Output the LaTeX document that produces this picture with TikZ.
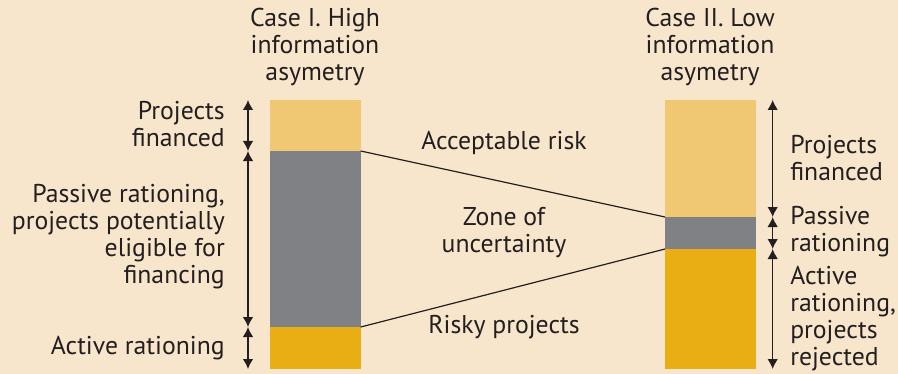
\documentclass[tikz,border=0pt]{standalone}
\usepackage{fontspec}
\setmainfont{PT Sans}
\usetikzlibrary{arrows.meta,positioning}
\definecolor{bgcream}{RGB}{248,230,204}
\definecolor{finlight}{RGB}{240,200,116}
\definecolor{zonegray}{RGB}{128,129,132}
\definecolor{riskgold}{RGB}{232,174,20}
\definecolor{inkdark}{RGB}{35,31,32}
\tikzset{
  block/.style     = {inner sep=0pt, outer sep=0pt, minimum width=68pt, anchor=north west},
  span/.style      = {{Latex[length=7.5pt,width=8pt]}-{Latex[length=7.5pt,width=8pt]},
                      line width=1.1pt, draw=inkdark},
  link/.style      = {line width=0.9pt, draw=inkdark},
  lbl/.style       = {font=\fontsize{19.3}{20.25}\selectfont, text=inkdark, inner sep=0pt},
}

\begin{document}
\begin{tikzpicture}[x=0.75pt,y=-0.75pt]
  \useasboundingbox (0,0) rectangle (898,374);
  \fill[bgcream] (0,0) rectangle (898,374);

  % ---- case I bar --------------------------------------------------------
  \node[block, fill=finlight, minimum height=38.25pt] (finA) at (270,100) {};
  \node[block, fill=zonegray, minimum height=132pt, below=0pt of finA] (zoneA) {};
  \node[block, fill=riskgold, minimum height=31.5pt, below=0pt of zoneA] (riskA) {};

  % ---- case II bar -------------------------------------------------------
  \node[block, fill=finlight, minimum height=87.75pt] (finB) at (665,100) {};
  \node[block, fill=zonegray, minimum height=24pt, below=0pt of finB] (zoneB) {};
  \node[block, fill=riskgold, minimum height=90pt, below=0pt of zoneB] (riskB) {};

  % ---- connecting lines --------------------------------------------------
  \draw[link] (zoneA.north east) -- (zoneB.north west);
  \draw[link] (riskA.north east) -- (riskB.north west);

  % ---- measure arrows ----------------------------------------------------
  \draw[span] ([xshift=-16.5pt]finA.north west)  -- ([xshift=-16.5pt]finA.south west);
  \draw[span] ([xshift=-16.5pt]zoneA.north west) -- ([xshift=-16.5pt]zoneA.south west);
  \draw[span] ([xshift=-16.5pt]riskA.north west) -- ([xshift=-16.5pt]riskA.south west);
  \draw[span] ([xshift=12.75pt]finB.north east)  -- ([xshift=12.75pt]finB.south east);
  \draw[span] ([xshift=12.75pt]zoneB.north east) -- ([xshift=12.75pt]zoneB.south east);
  \draw[span] ([xshift=12.75pt]riskB.north east) -- ([xshift=12.75pt]riskB.south east);

  % ---- headers -----------------------------------------------------------
  \node[lbl, align=center] (headA) at (315,47) {Case I. High\\information\\asymetry};
  \node[lbl, align=center] (headB) at (710,47) {Case II. Low\\information\\asymetry};

  % ---- left labels -------------------------------------------------------
  \node[lbl, align=right, anchor=east] (finAtxt)  at (225,124) {Projects\\financed};
  \node[lbl, align=right, anchor=east] (zoneAtxt) at (225,237) {Passive rationing,\\projects potentially\\eligible for\\financing};
  \node[lbl, align=right, anchor=east] (riskAtxt) at (225,348) {Active rationing};

  % ---- middle labels -----------------------------------------------------
  \node[lbl, align=center] (accept) at (504,143) {Acceptable risk};
  \node[lbl, align=center] (zone)   at (504,233) {Zone of\\uncertainty};
  \node[lbl, align=center] (risky)  at (504,327) {Risky projects};

  % ---- right labels ------------------------------------------------------
  \node[lbl, align=left, anchor=west] (finBtxt)  at (790,158) {Projects\\financed};
  \node[lbl, align=left, anchor=west] (zoneBtxt) at (790,232) {Passive\\rationing};
  \node[lbl, align=left, anchor=west] (riskBtxt) at (790,319) {Active\\rationing,\\projects\\rejected};
\end{tikzpicture}
\end{document}
